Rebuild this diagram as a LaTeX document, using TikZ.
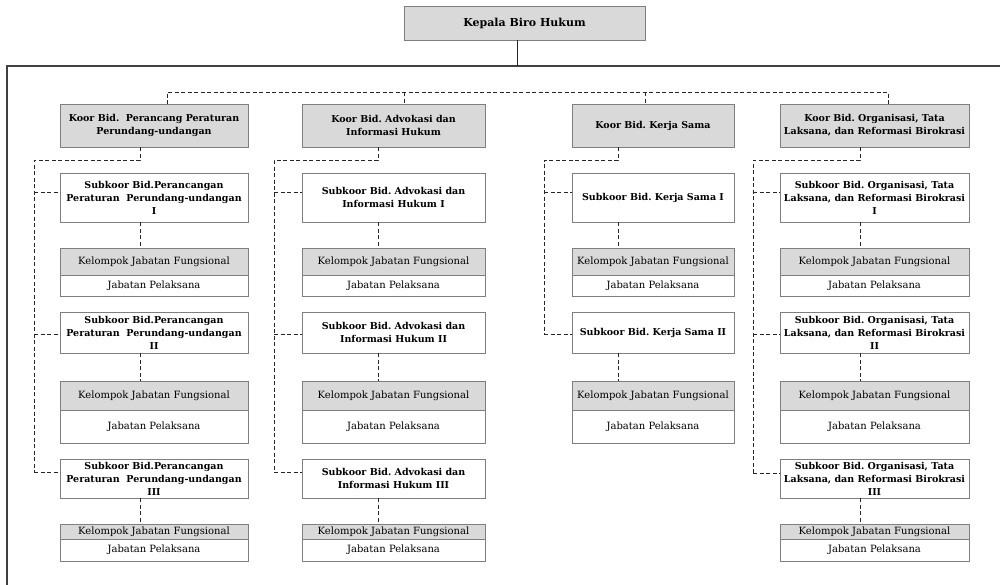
\documentclass[tikz,border=0pt]{standalone}
\usepackage{fontspec}
\setmainfont{DejaVu Serif}
\usepackage{tikz}
\usetikzlibrary{positioning, calc}
\definecolor{boxgrey}{HTML}{D9D9D9}
\definecolor{edgegrey}{HTML}{7F7F7F}
\definecolor{framegrey}{HTML}{404040}
\frenchspacing

\begin{document}
\begin{tikzpicture}[x=1pt,y=-1pt,
conn/.style={draw=black!85,line width=1pt,dash pattern=on 4pt off 2.5pt},
c1/.style={minimum width=188pt},
c2/.style={minimum width=183pt},
c3/.style={minimum width=162pt},
c4/.style={minimum width=189pt},
topbox/.style={fill=boxgrey,font=\fontsize{11}{13}\selectfont\bfseries,minimum width=241pt,minimum height=34pt},
koorbox/.style={fill=boxgrey,font=\fontsize{9.5}{13}\selectfont\bfseries,minimum height=43pt},
subbox/.style={fill=white,font=\fontsize{9.5}{13}\selectfont\bfseries},
kelbox/.style={fill=boxgrey,font=\fontsize{10}{12}\selectfont},
pelbox/.style={fill=white,font=\fontsize{10}{12}\selectfont}]
\tikzstyle{every node}=[rectangle,draw=edgegrey,line width=0.8pt,align=center,inner sep=1pt,outer sep=0pt]
\useasboundingbox (0,0) rectangle (1000,584);

% frame and head
\node[topbox] (kepala) at (524.5,23) {Kepala Biro Hukum};
\coordinate (frametop) at (517,66);
\draw[framegrey,line width=1.4pt] (7,600) -- (7,66) -- (1010,66);
\draw[black!85,line width=0.8pt] (kepala.south -| frametop) -- (frametop);

% koordinator
\node[koorbox,c1] (koor1) at (154,125.5) {Koor Bid.\ \ Perancang Peraturan\\Perundang-undangan};
\node[koorbox,c2] (koor2) at (393.5,125.5) {Koor Bid. Advokasi dan\\Informasi Hukum};
\node[koorbox,c3] (koor3) at (653,125.5) {Koor Bid. Kerja Sama};
\node[koorbox,c4] (koor4) at (874.5,125.5) {Koor Bid. Organisasi, Tata\\Laksana, dan Reformasi Birokrasi};

% subkoordinator
\node[subbox,c1,minimum height=49pt] (sub11) at (154,197.5) {Subkoor Bid.Perancangan\\Peraturan\ \ Perundang-undangan\\I};
\node[subbox,c1,minimum height=41pt] (sub12) at (154,332.5) {Subkoor Bid.Perancangan\\Peraturan\ \ Perundang-undangan\\II};
\node[subbox,c1,minimum height=39pt] (sub13) at (154,478.5) {Subkoor Bid.Perancangan\\Peraturan\ \ Perundang-undangan\\III};
\node[subbox,c2,minimum height=49pt] (sub21) at (393.5,197.5) {Subkoor Bid. Advokasi dan\\Informasi Hukum I};
\node[subbox,c2,minimum height=41pt] (sub22) at (393.5,332.5) {Subkoor Bid. Advokasi dan\\Informasi Hukum II};
\node[subbox,c2,minimum height=39pt] (sub23) at (393.5,478.5) {Subkoor Bid. Advokasi dan\\Informasi Hukum III};
\node[subbox,c3,minimum height=49pt] (sub31) at (653,197.5) {Subkoor Bid. Kerja Sama I};
\node[subbox,c3,minimum height=41pt] (sub32) at (653,332.5) {Subkoor Bid. Kerja Sama II};
\node[subbox,c4,minimum height=49pt] (sub41) at (874.5,197.5) {Subkoor Bid. Organisasi, Tata\\Laksana, dan Reformasi Birokrasi\\I};
\node[subbox,c4,minimum height=41pt] (sub42) at (874.5,332.5) {Subkoor Bid. Organisasi, Tata\\Laksana, dan Reformasi Birokrasi\\II};
\node[subbox,c4,minimum height=39pt] (sub43) at (874.5,478.5) {Subkoor Bid. Organisasi, Tata\\Laksana, dan Reformasi Birokrasi\\III};

% kelompok jabatan fungsional + pelaksana
\foreach \c/\cx in {1/154,2/393.5,3/653,4/874.5}{
  \node[kelbox,c\c,minimum height=27pt] (kel\c1) at (\cx,261.5) {Kelompok Jabatan Fungsional};
  \node[pelbox,c\c,minimum height=21pt,below=0pt of kel\c1] (pel\c1) {Jabatan Pelaksana};
  \node[kelbox,c\c,minimum height=29pt] (kel\c2) at (\cx,395.5) {Kelompok Jabatan Fungsional};
  \node[pelbox,c\c,minimum height=33pt,below=0pt of kel\c2] (pel\c2) {Jabatan Pelaksana};
}
\foreach \c/\cx in {1/154,2/393.5,4/874.5}{
  \node[kelbox,c\c,minimum height=15pt] (kel\c3) at (\cx,531.5) {Kelompok Jabatan Fungsional};
  \node[pelbox,c\c,minimum height=22pt,below=0pt of kel\c3] (pel\c3) {Jabatan Pelaksana};
}

% dashed lines
\coordinate (bus1) at (167,92);
\coordinate (bus2) at (404,92);
\coordinate (bus3) at (645,92);
\coordinate (bus4) at (888,92);
\draw[conn] (koor1.north -| bus1) -- (bus1) -- (bus4) -- (koor4.north -| bus4);
\draw[conn] (bus2) -- (koor2.north -| bus2);
\draw[conn] (bus3) -- (koor3.north -| bus3);

\coordinate (s1) at (140,160);  \coordinate (r1) at (34,160);
\coordinate (s2) at (378,160);  \coordinate (r2) at (274,160);
\coordinate (s3) at (618,160);  \coordinate (r3) at (544,160);
\coordinate (s4) at (860,160);  \coordinate (r4) at (753,160);
\foreach \c/\r/\dy in {1/1/5.5,1/2/-1.5,1/3/6.5,2/1/5.5,2/2/-1.5,2/3/6.5,3/1/5.5,3/2/-1.5,4/1/5.5,4/2/-1.5,4/3/5.5}{
  \coordinate (j\c\r) at ([yshift=\dy pt]sub\c\r.west);
  \draw[conn] (r\c |- j\c\r) -- (j\c\r);
  \draw[conn] (s\c |- sub\c\r.south) -- (s\c |- kel\c\r.north);
}
\foreach \c/\last in {1/3,2/3,3/2,4/3}{
  \draw[conn] (s\c |- koor\c.south) -- (s\c) -- (r\c) -- (r\c |- j\c\last);
}
\end{tikzpicture}
\end{document}
